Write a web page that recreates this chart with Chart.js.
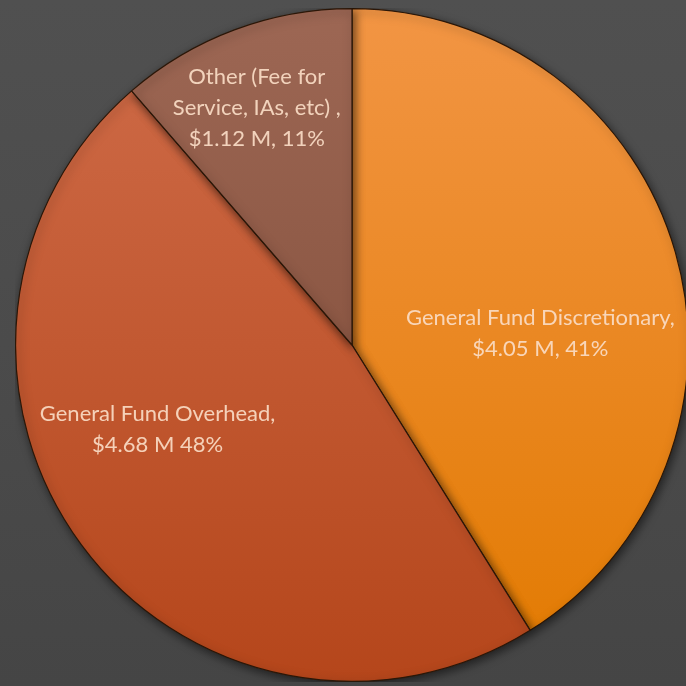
<!DOCTYPE html>
<html>
<head>
<meta charset="utf-8">
<script src="https://cdn.jsdelivr.net/npm/chart.js@4"></script>
<style>
  html, body { margin: 0; padding: 0; width: 686px; height: 686px; overflow: hidden; }
  body { background: linear-gradient(180deg, #505050 0%, #4a4a4a 60%, #454545 100%); position: relative; }
  #wrap { position: absolute; left: 15px; top: 8px; width: 674px; height: 674px; }
</style>
</head>
<body>
<div id="wrap"><canvas id="pie"></canvas></div>
<script>
// Dados do gráfico
const categorias = ['General Fund Discretionary', 'General Fund Overhead', 'Other (Fee for Service, IAs, etc)'];
const valores = [4.05, 4.68, 1.12]; // milhões de dólares
const rotulos = [
  ['General Fund Discretionary,', '$4.05 M, 41%'],
  ['General Fund Overhead,', '$4.68 M 48%'],
  ['Other (Fee for', 'Service, IAs, etc) ,', '$1.12 M, 11%']
];

// cores (topo -> base) de cada fatia
const coresTopo = ['#f29544', '#cf6c49', '#9d6754'];
const coresBase = ['#e27a00', '#b5461b', '#7a4733'];
// posição dos rótulos relativa ao centro, em frações do raio
const posRotulos = [[0.56, -0.035], [-0.578, 0.25], [-0.283, -0.705]];

function gradiente(context) {
  const chart = context.chart;
  const area = chart.chartArea;
  if (!area) return coresBase[context.dataIndex];
  const g = chart.ctx.createLinearGradient(0, area.top, 0, area.bottom);
  g.addColorStop(0, coresTopo[context.dataIndex]);
  g.addColorStop(1, coresBase[context.dataIndex]);
  return g;
}

// sombra em volta da pizza
const sombraPlugin = {
  id: 'sombra',
  beforeDatasetsDraw(chart) {
    const ctx = chart.ctx;
    ctx.save();
    ctx.shadowColor = 'rgba(0,0,0,0.55)';
    ctx.shadowBlur = 10;
    ctx.shadowOffsetX = 2;
    ctx.shadowOffsetY = 3;
  },
  afterDatasetsDraw(chart) {
    chart.ctx.restore();
  }
};

// rótulos dentro das fatias
const rotulosPlugin = {
  id: 'rotulos',
  afterDraw(chart) {
    const ctx = chart.ctx;
    const arc = chart.getDatasetMeta(0).data[0];
    const cx = arc.x, cy = arc.y, r = arc.outerRadius;
    ctx.save();
    ctx.font = '22px Lato, "Open Sans", sans-serif';
    ctx.fillStyle = 'rgba(250, 220, 198, 0.92)';
    ctx.textAlign = 'center';
    ctx.textBaseline = 'middle';
    const lh = 31;
    rotulos.forEach((linhas, i) => {
      const x = cx + posRotulos[i][0] * r;
      const y0 = cy + posRotulos[i][1] * r - (linhas.length - 1) * lh / 2;
      linhas.forEach((t, j) => ctx.fillText(t, x, y0 + j * lh));
    });
    ctx.restore();
  }
};

new Chart(document.getElementById('pie'), {
  type: 'pie',
  data: {
    labels: categorias,
    datasets: [{
      data: valores,
      backgroundColor: gradiente,
      borderColor: '#2b1708',
      borderWidth: 1.2,
      hoverOffset: 0
    }]
  },
  options: {
    responsive: true,
    maintainAspectRatio: false,
    animation: false,
    layout: { padding: 0 },
    plugins: {
      legend: { display: false },
      tooltip: { enabled: false }
    }
  },
  plugins: [sombraPlugin, rotulosPlugin]
});
</script>
</body>
</html>
